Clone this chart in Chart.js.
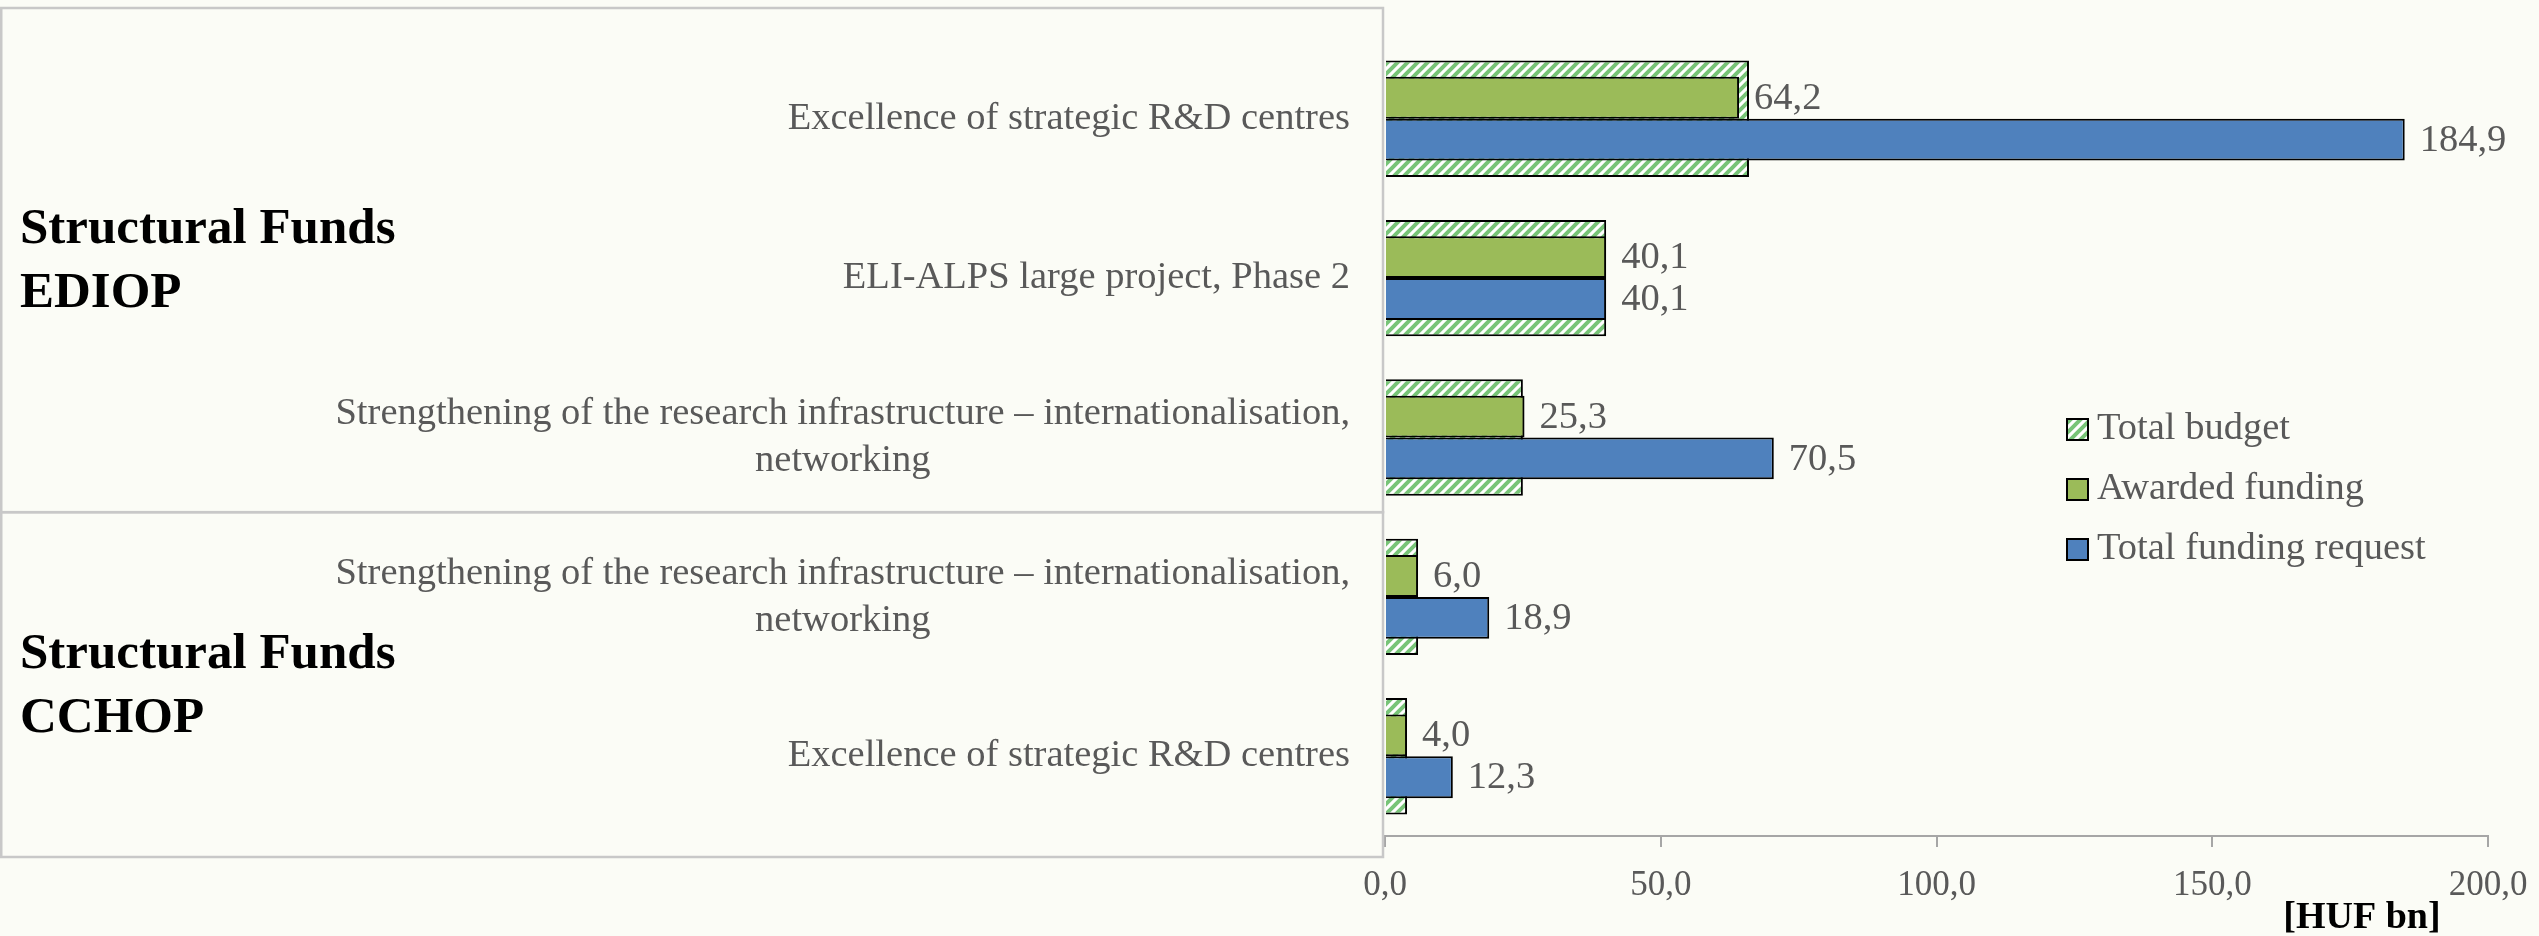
<!DOCTYPE html>
<html>
<head>
<meta charset="utf-8">
<title>Structural Funds – R&D calls</title>
<script src="https://cdn.jsdelivr.net/npm/chart.js@4/dist/chart.umd.min.js"></script>
<style>
  html, body { margin: 0; padding: 0; background: #fbfcf6; }
  #wrap { width: 2539px; height: 936px; }
</style>
</head>
<body>
<div id="wrap"><canvas id="chartFunds" width="2539" height="936"></canvas></div>
<script>
// ===== DATOS =====
const categories = [
    'Excellence of strategic R&D centres',
    'ELI-ALPS large project, Phase 2',
    ['Strengthening of the research infrastructure – internationalisation,', 'networking'],
    ['Strengthening of the research infrastructure – internationalisation,', 'networking'],
    'Excellence of strategic R&D centres'
];
const totalBudget = [66.0, 40.1, 25.0, 6.0, 4.0];
const awardedFunding = [64.2, 40.1, 25.3, 6.0, 4.0];
const fundingRequest = [184.9, 40.1, 70.5, 18.9, 12.3];
const seriesNames = ['Total budget', 'Awarded funding', 'Total funding request'];
const groupNames = [['Structural Funds', 'EDIOP'], ['Structural Funds', 'CCHOP']];
const groupSizes = [3, 2];
const xTickLabels = ['0,0', '50,0', '100,0', '150,0', '200,0'];
const axisUnit = '[HUF bn]';

const FONT = '"Liberation Serif", "Times New Roman", serif';
const GREY_TEXT = '#595959';
const GREEN = '#9bbb59';
const BLUE = '#4f81bd';

// ===== TRAMA RAYADA =====
function makeHatch() {
    const c = document.createElement('canvas');
    c.width = 10;
    c.height = 10;
    const g = c.getContext('2d');
    g.fillStyle = '#ffffff';
    g.fillRect(0, 0, 10, 10);
    g.strokeStyle = '#78c478';
    g.lineWidth = 4;
    g.beginPath();
    g.moveTo(-5, 5); g.lineTo(5, -5);
    g.moveTo(0, 10); g.lineTo(10, 0);
    g.moveTo(5, 15); g.lineTo(15, 5);
    g.stroke();
    return g.createPattern(c, 'repeat');
}
const hatch = makeHatch();

function fmt(v) {
    return v.toFixed(1).replace('.', ',');
}

// ===== DIBUJOS EXTRA =====
const overlayPlugin = {
    id: 'overlay',
    beforeDatasetsDraw(chart) {
        const ctx = chart.ctx;
        const y = chart.scales.y;
        const right = chart.chartArea.left - 2;
        // cajas de los grupos
        let start = 0;
        const tops = [8];
        groupSizes.forEach((n, gi) => {
            const last = start + n - 1;
            if (gi < groupSizes.length - 1) {
                tops.push((y.getPixelForValue(last) + y.getPixelForValue(last + 1)) / 2 - 5);
            }
            start += n;
        });
        tops.push(chart.chartArea.bottom + 21);
        ctx.save();
        ctx.strokeStyle = '#c8c8c8';
        ctx.lineWidth = 2.5;
        for (let i = 0; i < groupSizes.length; i++) {
            ctx.strokeRect(1.25, tops[i], right - 1.25, tops[i + 1] - tops[i]);
        }
        // nombres de grupo
        ctx.fillStyle = '#000000';
        ctx.font = 'bold 51px ' + FONT;
        ctx.textAlign = 'left';
        ctx.textBaseline = 'middle';
        groupNames.forEach((lines, i) => {
            const mid = (tops[i] + tops[i + 1]) / 2 + 2;
            lines.forEach((t, k) => {
                ctx.fillText(t, 20, mid + (k - (lines.length - 1) / 2) * 64);
            });
        });
        ctx.restore();
    },
    afterDatasetsDraw(chart) {
        const ctx = chart.ctx;
        ctx.save();
        ctx.font = '38.5px ' + FONT;
        ctx.fillStyle = GREY_TEXT;
        ctx.textAlign = 'left';
        ctx.textBaseline = 'middle';
        [1, 2].forEach(di => {
            const meta = chart.getDatasetMeta(di);
            meta.data.forEach((bar, i) => {
                ctx.fillText(fmt(chart.data.datasets[di].data[i]), bar.x + 15, bar.y + 1);
            });
        });

        // etiquetas de categoría
        const y = chart.scales.y;
        const rightEdge = chart.chartArea.left - 35;
        ctx.textAlign = 'center';
        categories.forEach((lbl, i) => {
            const lines = Array.isArray(lbl) ? lbl : [lbl];
            const widest = Math.max(...lines.map(t => ctx.measureText(t).width));
            const cx = rightEdge - widest / 2;
            const cy = y.getPixelForValue(i);
            lines.forEach((t, k) => {
                ctx.fillText(t, cx, cy + (k - (lines.length - 1) / 2) * 47);
            });
        });

        // leyenda
        const swatch = [hatch, GREEN, BLUE];
        ctx.textAlign = 'left';
        seriesNames.forEach((name, i) => {
            const cy = 429 + i * 60;
            ctx.fillStyle = swatch[i];
            ctx.fillRect(2067, cy - 10, 21, 21);
            ctx.strokeStyle = '#000000';
            ctx.lineWidth = 2;
            ctx.strokeRect(2067, cy - 10, 21, 21);
            ctx.fillStyle = GREY_TEXT;
            ctx.fillText(name, 2097, cy);
        });

        // unidad del eje
        ctx.font = 'bold 38px ' + FONT;
        ctx.fillStyle = '#000000';
        ctx.textAlign = 'center';
        ctx.fillText(axisUnit, 2362, 918);
        ctx.restore();
    }
};

// ===== GRÁFICO =====
new Chart(document.getElementById('chartFunds'), {
    type: 'bar',
    data: {
        labels: categories,
        datasets: [
            {
                label: seriesNames[0],
                data: totalBudget,
                backgroundColor: hatch,
                borderColor: '#000000',
                borderWidth: 2,
                grouped: false,
                categoryPercentage: 0.73,
                barPercentage: 1,
                order: 1
            },
            {
                label: seriesNames[1],
                data: awardedFunding,
                backgroundColor: GREEN,
                borderColor: '#000000',
                borderWidth: 2,
                categoryPercentage: 0.525,
                barPercentage: 1,
                order: 0
            },
            {
                label: seriesNames[2],
                data: fundingRequest,
                backgroundColor: BLUE,
                borderColor: '#000000',
                borderWidth: 2,
                categoryPercentage: 0.525,
                barPercentage: 1,
                order: 0
            }
        ]
    },
    options: {
        indexAxis: 'y',
        responsive: false,
        animation: false,
        layout: { padding: { left: 0, right: 51, top: 39, bottom: 0 } },
        scales: {
            x: {
                min: 0,
                max: 200,
                ticks: {
                    stepSize: 50,
                    padding: 18,
                    color: GREY_TEXT,
                    font: { family: FONT, size: 35 },
                    callback: (v, i) => xTickLabels[i]
                },
                grid: {
                    drawOnChartArea: false,
                    drawTicks: true,
                    tickLength: 11,
                    color: '#a6a6a6',
                    lineWidth: 2
                },
                border: { display: true, color: '#a6a6a6', width: 2 },
                afterFit: s => {
                    s.height = 100;
                    s.paddingLeft = 0;
                    s.paddingRight = 0;
                }
            },
            y: {
                ticks: { display: false },
                grid: { display: false },
                border: { display: false },
                afterFit: s => { s.width = 1385; }
            }
        },
        plugins: {
            legend: { display: false },
            tooltip: { enabled: false }
        }
    },
    plugins: [overlayPlugin]
});
</script>
</body>
</html>
